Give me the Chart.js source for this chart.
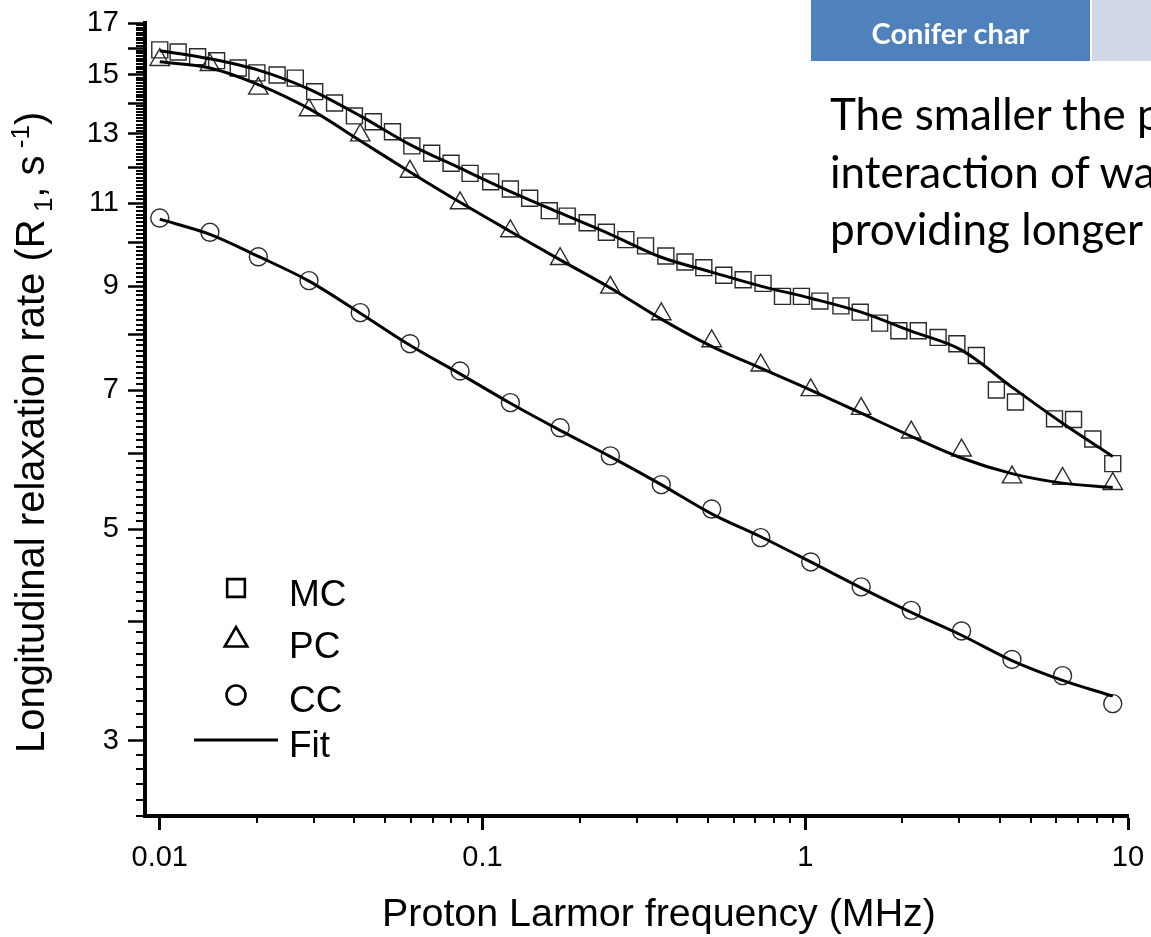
<!DOCTYPE html>
<html><head><meta charset="utf-8">
<script src="https://cdn.jsdelivr.net/npm/chart.js@4.4.1/dist/chart.umd.min.js"></script>
<style>
html,body{margin:0;padding:0;background:#fff;overflow:hidden;width:1151px;height:937px;}
#wrap{position:relative;width:1151px;height:937px;overflow:hidden;}
#c{position:absolute;left:0;top:0;}
.tab1{position:absolute;left:811px;top:0;width:279px;height:61px;background:#4F81BD;color:#fff;font-family:Lato,"Open Sans",sans-serif;font-weight:bold;font-size:29px;line-height:61px;text-align:center;}
.tab1 span{position:relative;top:2px;}
.tab2{position:absolute;left:1092px;top:0;width:80px;height:61px;background:#D0D8E8;}
.para{position:absolute;left:830px;top:85px;font-family:Lato,"Open Sans",sans-serif;font-size:44px;line-height:57.5px;white-space:nowrap;color:#000;}
</style>
</head><body>
<div id="wrap">
<canvas id="c" width="1151" height="937"></canvas>
<div class="tab1"><span>Conifer char</span></div>
<div class="tab2"></div>
<div class="para">The smaller the p<br>interaction of wa<br>providing longer</div>
</div>
<script>
// ---- data ----
const xMC = [0.01, 0.0114, 0.0131, 0.0150, 0.0175, 0.0200, 0.0231, 0.0263, 0.0302, 0.0348, 0.0401, 0.0459, 0.0526, 0.0604, 0.0696, 0.0799, 0.0915, 0.106, 0.122, 0.140, 0.161, 0.183, 0.211, 0.242, 0.278, 0.320, 0.370, 0.424, 0.485, 0.559, 0.642, 0.740, 0.850, 0.973, 1.11, 1.29, 1.48, 1.70, 1.95, 2.24, 2.58, 2.95, 3.39, 3.91, 4.48, 5.92, 6.78, 7.78, 8.97];
const yMC = [15.93, 15.85, 15.67, 15.52, 15.25, 15.07, 14.99, 14.88, 14.40, 14.01, 13.58, 13.39, 13.07, 12.63, 12.41, 12.11, 11.82, 11.58, 11.38, 11.13, 10.80, 10.66, 10.49, 10.25, 10.07, 9.92, 9.68, 9.54, 9.41, 9.24, 9.14, 9.06, 8.78, 8.78, 8.68, 8.58, 8.45, 8.23, 8.08, 8.08, 7.95, 7.83, 7.61, 7.00, 6.80, 6.53, 6.52, 6.22, 5.86];
const xFreq = [0.01, 0.0143, 0.0202, 0.0290, 0.0418, 0.0596, 0.0852, 0.122, 0.174, 0.249, 0.358, 0.513, 0.728, 1.04, 1.49, 2.13, 3.05, 4.37, 6.27, 8.97];
const yPC = [15.55, 15.36, 14.51, 13.77, 12.96, 11.87, 11.00, 10.28, 9.61, 8.97, 8.41, 7.88, 7.43, 7.00, 6.69, 6.32, 6.05, 5.67, 5.65, 5.58];
const yCC = [10.61, 10.25, 9.66, 9.12, 8.44, 7.83, 7.33, 6.79, 6.39, 5.97, 5.57, 5.25, 4.90, 4.62, 4.35, 4.11, 3.91, 3.65, 3.51, 3.28];
const fitMC = [15.90, 15.59, 15.17, 14.49, 13.58, 12.67, 11.97, 11.31, 10.74, 10.20, 9.65, 9.31, 9.00, 8.74, 8.45, 8.07, 7.71, 7.05, 6.46, 5.96];
const fitPC = [15.48, 15.25, 14.65, 13.82, 12.79, 11.86, 11.02, 10.27, 9.59, 8.96, 8.31, 7.78, 7.38, 7.00, 6.62, 6.26, 5.94, 5.72, 5.59, 5.53];
const fitCC = [10.58, 10.20, 9.67, 9.11, 8.43, 7.80, 7.28, 6.78, 6.35, 5.96, 5.57, 5.19, 4.91, 4.62, 4.34, 4.09, 3.87, 3.64, 3.47, 3.34];
const xTickValues = [0.01, 0.1, 1, 10];
const xTickLabels = ['0.01', '0.1', '1', '10'];
const yTickValues = [3, 4, 5, 6, 7, 8, 9, 10, 11, 12, 13, 14, 15, 16, 17];
const yTickLabels = ['3', '', '5', '', '7', '', '9', '', '11', '', '13', '', '15', '', '17'];
const seriesNames = ['MC', 'PC', 'CC', 'Fit'];
const xTitle = 'Proton Larmor frequency (MHz)';
const yTitleParts = ['Longitudinal relaxation rate (R', ' 1', ', s', ' -1', ')'];

const FONT = '"Liberation Sans", Arial, sans-serif';

// minor tick positions (axis decoration)
const yMinor = [];
for (let k = 25; k <= 170; k++) { if (k % 10 !== 0) yMinor.push(k / 10); }
const xMinor = [];
[0.01, 0.1, 1].forEach(d => { for (let m = 2; m <= 9; m++) xMinor.push(+(m * d).toPrecision(3)); });

function pts(xs, ys) { return xs.map((x, i) => ({ x: x, y: ys[i] })); }

function drawMarker(ctx, style, x, y, r) {
  ctx.beginPath();
  if (style === 'rect') {
    const s = Math.SQRT1_2 * r;
    ctx.rect(x - s, y - s, 2 * s, 2 * s);
  } else if (style === 'triangle') {
    ctx.moveTo(x, y - r);
    ctx.lineTo(x + r * Math.sqrt(3) / 2, y + r / 2);
    ctx.lineTo(x - r * Math.sqrt(3) / 2, y + r / 2);
    ctx.closePath();
  } else {
    ctx.arc(x, y, r, 0, Math.PI * 2);
  }
  ctx.stroke();
}

const decor = {
  id: 'decor',
  afterDraw(chart) {
    const ctx = chart.ctx, xs = chart.scales.x, ys = chart.scales.y, ca = chart.chartArea;
    ctx.save();
    ctx.strokeStyle = '#000';
    ctx.lineWidth = 2;
    yMinor.forEach(v => {
      const p = Math.round(ys.getPixelForValue(v));
      ctx.beginPath(); ctx.moveTo(ca.left - 9, p); ctx.lineTo(ca.left, p); ctx.stroke();
    });
    xMinor.forEach(v => {
      const p = Math.round(xs.getPixelForValue(v));
      ctx.beginPath(); ctx.moveTo(p, ca.bottom); ctx.lineTo(p, ca.bottom + 7); ctx.stroke();
    });
    // axis titles
    ctx.fillStyle = '#000';
    ctx.textBaseline = 'alphabetic';
    ctx.textAlign = 'center';
    ctx.font = '39.4px ' + FONT;
    ctx.fillText(xTitle, 659, 926);
    ctx.save();
    ctx.translate(43.5, 753);
    ctx.rotate(-Math.PI / 2);
    ctx.textAlign = 'left';
    let pos = 0;
    const spec = [[40, 0], [26, 8], [40, 0], [26, -15], [40, 0]];
    yTitleParts.forEach((t, i) => {
      ctx.font = spec[i][0] + 'px ' + FONT;
      ctx.fillText(t, pos, spec[i][1]);
      pos += ctx.measureText(t).width;
    });
    ctx.restore();
    // legend
    ctx.lineWidth = 2.6;
    ctx.strokeStyle = '#000';
    const styles = ['rect', 'triangle', 'circle'];
    const radii = [12.5, 13, 9.5];
    const rowsY = [588, 640, 695];
    styles.forEach((s, i) => drawMarker(ctx, s, 236, rowsY[i], radii[i]));
    ctx.lineWidth = 3;
    ctx.beginPath(); ctx.moveTo(194, 740); ctx.lineTo(278, 740); ctx.stroke();
    ctx.textAlign = 'left';
    ctx.font = '37px ' + FONT;
    const textY = [606, 658, 712, 757];
    seriesNames.forEach((n, i) => ctx.fillText(n, 289, textY[i]));
    ctx.restore();
  }
};

const markerColor = '#2b2b2b';
new Chart(document.getElementById('c'), {
  type: 'scatter',
  data: {
    datasets: [
      { label: 'MC fit', data: pts(xFreq, fitMC), showLine: true, pointRadius: 0, borderColor: '#000', borderWidth: 3, cubicInterpolationMode: 'monotone', order: 0 },
      { label: 'PC fit', data: pts(xFreq, fitPC), showLine: true, pointRadius: 0, borderColor: '#000', borderWidth: 3, cubicInterpolationMode: 'monotone', order: 0 },
      { label: 'CC fit', data: pts(xFreq, fitCC), showLine: true, pointRadius: 0, borderColor: '#000', borderWidth: 3, cubicInterpolationMode: 'monotone', order: 0 },
      { label: 'MC', data: pts(xMC, yMC), pointStyle: 'rect', pointRadius: 11.3, borderColor: markerColor, borderWidth: 1.4, backgroundColor: 'rgba(0,0,0,0)', order: 1 },
      { label: 'PC', data: pts(xFreq, yPC), pointStyle: 'triangle', pointRadius: 11.2, borderColor: markerColor, borderWidth: 1.4, backgroundColor: 'rgba(0,0,0,0)', order: 1 },
      { label: 'CC', data: pts(xFreq, yCC), pointStyle: 'circle', pointRadius: 9, borderColor: markerColor, borderWidth: 1.4, backgroundColor: 'rgba(0,0,0,0)', order: 1 }
    ]
  },
  options: {
    responsive: false,
    animation: false,
    devicePixelRatio: 1,
    layout: { padding: { top: 23, right: 23, left: 0, bottom: 0 } },
    plugins: { legend: { display: false }, tooltip: { enabled: false } },
    scales: {
      x: {
        type: 'logarithmic', min: 0.009, max: 10, position: 'bottom',
        afterBuildTicks: s => { s.ticks = xTickValues.map(v => ({ value: v })); },
        afterFit: s => { s.height = 121; s.paddingLeft = 0; s.paddingRight = 0; },
        ticks: { autoSkip: false, maxRotation: 0, minRotation: 0, padding: 11, color: '#000', font: { family: FONT, size: 29 }, callback: (v, i) => xTickLabels[i] },
        grid: { drawOnChartArea: false, drawTicks: true, tickLength: 14, tickWidth: 3, tickColor: '#000' },
        border: { display: true, color: '#000', width: 4 }
      },
      y: {
        type: 'logarithmic', min: 2.5, max: 17, position: 'left',
        afterBuildTicks: s => { s.ticks = yTickValues.map(v => ({ value: v })); },
        afterFit: s => { s.width = 145; s.paddingTop = 0; s.paddingBottom = 0; },
        ticks: { autoSkip: false, padding: 9, color: '#000', font: { family: FONT, size: 29 }, callback: (v, i) => yTickLabels[i] },
        grid: { drawOnChartArea: false, drawTicks: true, tickLength: 17, tickWidth: 2.5, tickColor: '#000' },
        border: { display: true, color: '#000', width: 4 }
      }
    }
  },
  plugins: [decor]
});
</script>
</body></html>
